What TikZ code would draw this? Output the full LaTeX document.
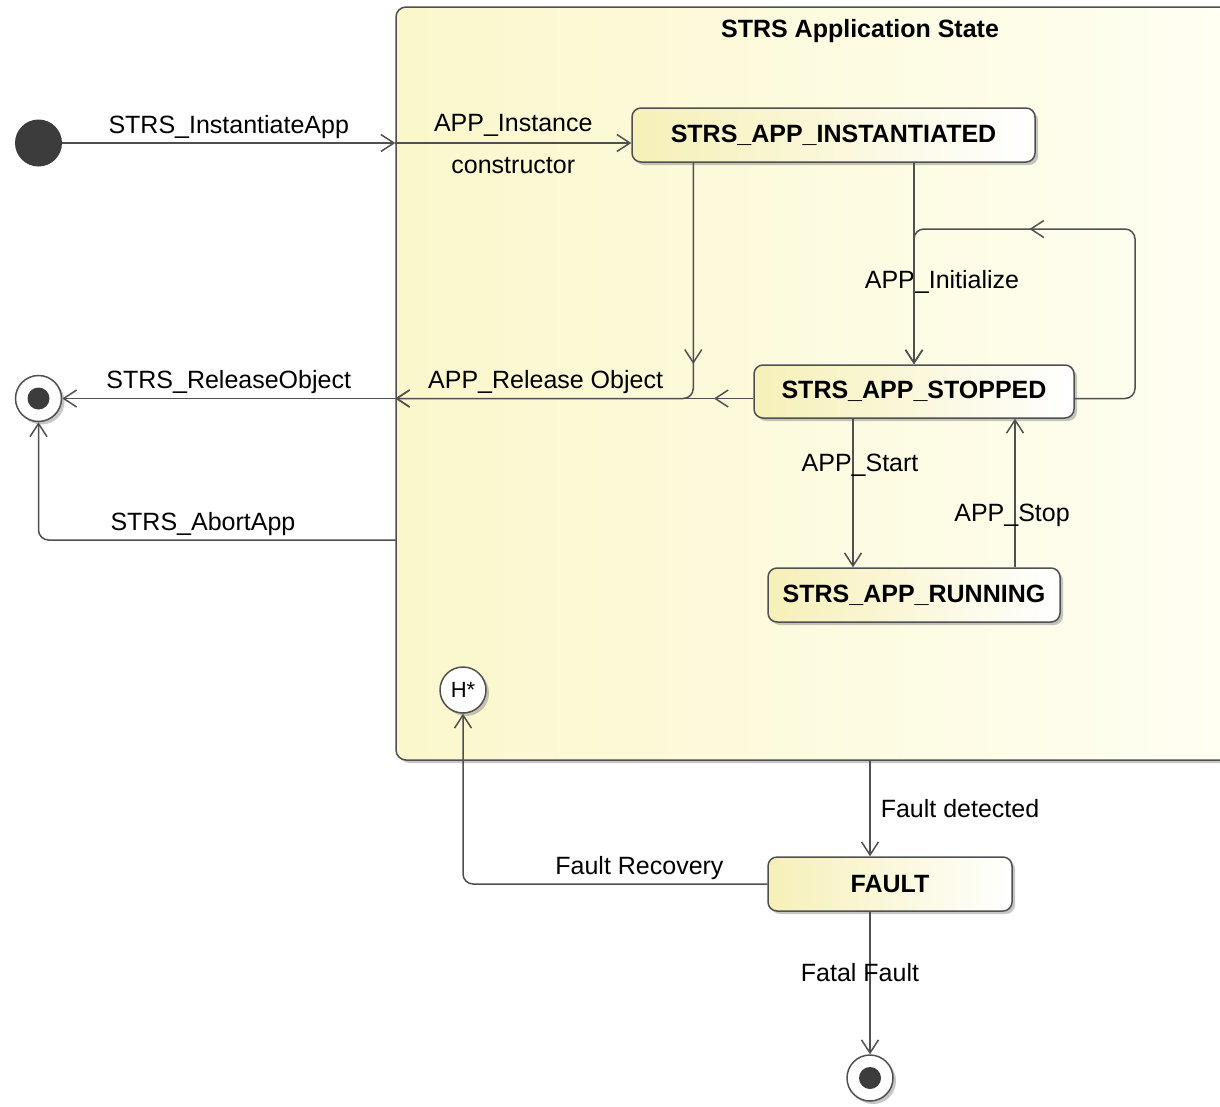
\documentclass[tikz,border=0pt]{standalone}
\usepackage{fontspec}
\setmainfont{Liberation Sans}
\usetikzlibrary{arrows.meta,shadows,decorations.markings,calc}

\definecolor{linegray}{HTML}{505050}
\definecolor{dotgray}{HTML}{3C3C3C}
\definecolor{stateyellow}{HTML}{F6F0B8}
\definecolor{appyellow}{HTML}{FBF7CC}
\definecolor{appwhite}{HTML}{FFFFF4}

\tikzset{
	softshadow/.style={drop shadow={shadow xshift=3pt, shadow yshift=-3pt, fill=black!50, opacity=0.45}},
	appbox/.style={draw=linegray, line width=1.5pt, rounded corners=10pt, left color=appyellow, right color=appwhite, softshadow, inner sep=0pt},
	statebox/.style={draw=linegray, line width=1.5pt, rounded corners=9pt, left color=stateyellow, right color=white, softshadow, inner sep=0pt, font=\fontsize{25}{30}\selectfont\bfseries},
	initstate/.style={circle, fill=dotgray, minimum size=47pt, inner sep=0pt},
	finalstate/.style={circle, draw=linegray, line width=1.5pt, fill=white, minimum size=46pt, inner sep=0pt, softshadow, path picture={\fill[dotgray] (path picture bounding box.center) circle (11pt);}},
	histstate/.style={circle, draw=linegray, line width=1.5pt, fill=white, minimum size=46pt, inner sep=0pt, softshadow, font=\fontsize{22}{26}\selectfont},
	trans/.style={draw=linegray, line width=1.5pt, -{Straight Barb[length=13pt,width=17pt]}, rounded corners=10pt},
	midarrow/.style={postaction={decorate}, decoration={markings, mark=at position #1 with {\arrow{Straight Barb[length=13pt,width=17pt]}}}},
	lbl/.style={font=\fontsize{25}{30}\selectfont, inner sep=4pt},
}

\begin{document}
\begin{tikzpicture}[x=1pt, y=-1pt]
		\useasboundingbox (0,0) rectangle (1220,1106);

		% アプリケーション状態の枠を描画
		\node[appbox, minimum width=860pt, minimum height=753pt] (app) at (826,383.5) {};
		\node[lbl, font=\fontsize{25}{30}\selectfont\bfseries] (apptitle) at (860,31) {STRS Application State};

		% 状態を描画
		\node[statebox, minimum width=403pt, minimum height=54pt] (inst) at (833.5,135) {STRS\_APP\_INSTANTIATED};
		\node[statebox, minimum width=320pt, minimum height=53pt] (stop) at (914,391.5) {STRS\_APP\_STOPPED};
		\node[statebox, minimum width=292pt, minimum height=54pt] (run) at (914,595) {STRS\_APP\_RUNNING};
		\node[statebox, minimum width=244pt, minimum height=54pt] (fault) at (890,884) {FAULT};

		% 開始・終了・履歴の丸を描画
		\node[initstate] (init) at (38.5,143) {};
		\node[finalstate] (fin1) at (38.5,398.5) {};
		\node[finalstate] (fin2) at (870,1078) {};
		\node[histstate] (hist) at (463,690) {H*};

		\coordinate (stopout) at ($(stop.west)+(0,7)$);
		\coordinate (appout) at (app.west |- stopout);
		\coordinate (loop) at (1135,229);
		\coordinate (abort) at (396,540);

		% 生成の矢印を描画
		\draw[trans] (init) -- (init -| app.west) node[lbl, midway, above] {STRS\_InstantiateApp};
		\draw[trans] (init -| app.west) -- (init -| inst.west) node[lbl, midway, above, yshift=2pt] {APP\_Instance} node[lbl, midway, below, yshift=-10pt] {constructor};

		% 初期化とループを描画
		\draw[trans] (inst.south -| stop.north) -- (stop.north) node[lbl, pos=0.59, xshift=28pt] {APP\_Initialize};
		\draw[trans, midarrow=0.57] ($(stop.east)+(0,7)$) -| (loop) -| (stop.north);

		% 解放の矢印を描画
		\draw[trans, midarrow=0.38] ([xshift=62pt]inst.south west) |- (appout);
		\draw[trans, midarrow=0.11] (stopout) -- (appout) node[lbl, pos=0.58, above] {APP\_Release Object};
		\draw[trans] (appout) -- (fin1) node[lbl, midway, above] {STRS\_ReleaseObject};
		\draw[trans] (abort) -| (fin1) node[lbl, pos=0.27, above] {STRS\_AbortApp};

		% 開始と停止を描画
		\draw[trans] ([xshift=-61pt]stop.south) -- ([xshift=-61pt]stop.south |- run.north) node[lbl, pos=0.31, xshift=7pt] {APP\_Start};
		\draw[trans] ([xshift=101pt]run.north) -- ([xshift=101pt]run.north |- stop.south) node[lbl, pos=0.35, xshift=-3pt] {APP\_Stop};

		% 障害の矢印を描画
		\draw[trans] (app.south -| fin2) -- (fault.north -| fin2) node[lbl, midway, right, xshift=6pt] {Fault detected};
		\draw[trans] (fault.west) -| (hist) node[lbl, pos=0.21, above] {Fault Recovery};
		\draw[trans] (fault.south -| fin2) -- (fin2) node[lbl, pos=0.43, xshift=-10pt] {Fatal Fault};
	\end{tikzpicture}
\end{document}
